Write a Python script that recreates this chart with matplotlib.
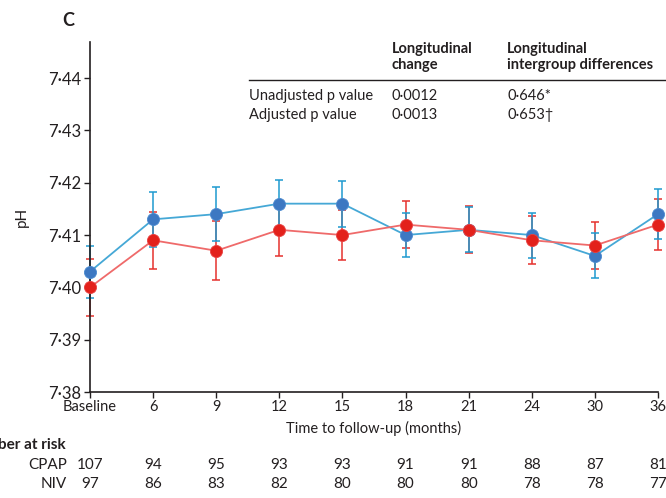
import matplotlib
matplotlib.use("Agg")
import matplotlib.pyplot as plt
import numpy as np

plt.rcParams['font.family'] = ['Lato', 'DejaVu Sans']

# data
timepoints = ['Baseline', '6', '9', '12', '15', '18', '21', '24', '30', '36']
cpap_mean = [7.403, 7.413, 7.414, 7.416, 7.416, 7.410, 7.411, 7.410, 7.406, 7.414]
cpap_err = [0.0050, 0.0053, 0.0052, 0.0046, 0.0044, 0.0042, 0.0043, 0.0043, 0.0043, 0.0048]
niv_mean = [7.400, 7.409, 7.407, 7.411, 7.410, 7.412, 7.411, 7.409, 7.408, 7.412]
niv_err = [0.0055, 0.0055, 0.0056, 0.0050, 0.0048, 0.0045, 0.0045, 0.0046, 0.0044, 0.0049]
cpap_risk = [107, 94, 95, 93, 93, 91, 91, 88, 87, 81]
niv_risk = [97, 86, 83, 82, 80, 80, 80, 78, 78, 77]
yticks = [7.38, 7.39, 7.40, 7.41, 7.42, 7.43, 7.44]

W, H = 666, 498


def px(x, y):
    # pixel position -> figure fraction
    return x / W, 1 - y / H


fig = plt.figure(figsize=(W / 100, H / 100), dpi=100)
ax = fig.add_axes([90 / W, 1 - 392 / H, 568 / W, 350 / H])

x = np.arange(len(timepoints))
blue_line = '#45a8d6'
blue_mark = '#3d78c2'
red_line = '#ef6a6a'
red_mark = '#e3211b'

ax.errorbar(x, niv_mean, yerr=niv_err, fmt='none', ecolor='#e5312e',
            elinewidth=1.1, capsize=3, capthick=1.1, clip_on=False, zorder=2)
ax.errorbar(x, cpap_mean, yerr=cpap_err, fmt='none', ecolor='#1e9ad0',
            elinewidth=1.1, capsize=3, capthick=1.1, clip_on=False, zorder=2)
ax.plot(x, cpap_mean, color=blue_line, lw=1.3, zorder=3, clip_on=False)
ax.plot(x, niv_mean, color=red_line, lw=1.3, zorder=3, clip_on=False)
ax.plot(x, cpap_mean, 'o', color=blue_mark, ms=8.7, mec='#4a8ad0', mew=0.6,
        zorder=4, clip_on=False)
ax.plot(x, niv_mean, 'o', color=red_mark, ms=8.7, mec='#e84040', mew=0.6,
        zorder=5, clip_on=False)

tc = '#231f20'
ax.set_xlim(0, 9)
ax.set_ylim(7.38, 7.4469)
ax.set_xticks(x)
ax.set_xticklabels(timepoints, fontsize=10.5, color=tc)
ax.set_yticks(yticks)
ax.set_yticklabels([f'{v:.2f}'.replace('.', '\u00b7') for v in yticks],
                   fontsize=12, color=tc)
for s in ['top', 'right']:
    ax.spines[s].set_visible(False)
for s in ['left', 'bottom']:
    ax.spines[s].set_linewidth(1.2)
    ax.spines[s].set_color(tc)
ax.tick_params(direction='out', length=4, width=1.0, pad=2, colors=tc)
ax.set_ylabel('pH', fontsize=11, color=tc)
ax.yaxis.set_label_coords(-0.108, 0.5)
ax.set_xlabel('Time to follow-up (months)', fontsize=10.5, color=tc,
              labelpad=5)

fig.text(*px(68, 20), 'C', fontsize=13, fontweight='bold', color=tc,
         va='center', ha='center')

# p value table
fig.text(*px(392, 57), 'Longitudinal\nchange', fontsize=10.5, fontweight='bold',
         color=tc, va='center', ha='left', linespacing=1.2)
fig.text(*px(507, 57), 'Longitudinal\nintergroup differences', fontsize=10.5,
         fontweight='bold', color=tc, va='center', ha='left', linespacing=1.2)
fig.add_artist(plt.Line2D([249 / W, 1], [1 - 80 / H, 1 - 80 / H], color=tc,
                          lw=1.0))
rows = [('Unadjusted p value', '0\u00b70012', '0\u00b7646*'),
        ('Adjusted p value', '0\u00b70013', '0\u00b7653\u2020')]
for i, (lab, a, b) in enumerate(rows):
    yy = 96 + 19 * i
    fig.text(*px(249, yy), lab, fontsize=10.5, color=tc, va='center')
    fig.text(*px(392, yy), a, fontsize=10.5, color=tc, va='center')
    fig.text(*px(507, yy), b, fontsize=10.5, color=tc, va='center')

# number at risk
fig.text(*px(66, 445), 'Number at risk', fontsize=11, fontweight='bold',
         color=tc, va='center', ha='right')
for yy, lab, vals in [(465, 'CPAP', cpap_risk), (484, 'NIV', niv_risk)]:
    fig.text(*px(67, yy), lab, fontsize=11, color=tc, va='center', ha='right')
    for i, v in enumerate(vals):
        xx = 90 + 568 / 9 * i
        fig.text(*px(xx, yy), str(v), fontsize=11, color=tc, va='center',
                 ha='center')

fig.savefig('out.png', dpi=100)
